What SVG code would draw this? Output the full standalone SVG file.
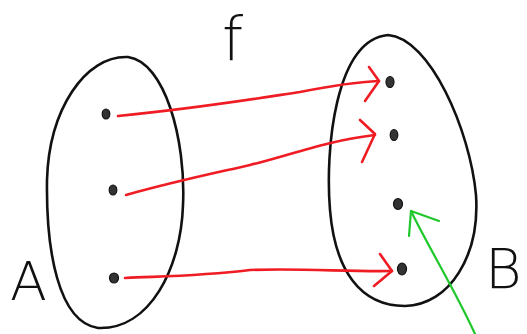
<svg xmlns="http://www.w3.org/2000/svg" width="527" height="334" viewBox="0 0 527 334">
<style>
.set{fill:none;stroke:#111;stroke-width:2.6}
.dot{fill:#333;stroke:#111;stroke-width:1.2}
.red{fill:none;stroke:#f01c24;stroke-width:2.6;stroke-linecap:round;stroke-linejoin:round}
.grn{fill:none;stroke:#1ec82a;stroke-width:2.2;stroke-linecap:round;stroke-linejoin:round}
.lbl{font-family:"DejaVu Sans","Liberation Sans",sans-serif;fill:#111;font-weight:200}
</style>
<rect width="527" height="334" fill="#fff"/>
<g id="setA">
<path class="set" d="M128,57 C165,62 186,140 183,205 C181,268 150,330 98,328 C58,322 46,250 47,180 C49,110 85,55 128,57 Z"/>
<ellipse class="dot" cx="106" cy="114" rx="3.8" ry="5"/>
<ellipse class="dot" cx="113" cy="190" rx="3.8" ry="5"/>
<ellipse class="dot" cx="114" cy="278" rx="4.5" ry="5"/>
<text class="lbl" x="10" y="300" font-size="54">A</text>
</g>
<g id="setB">
<path class="set" d="M388,35 C430,38 470,130 476,195 C480,255 450,305 405,306 C360,306 335,270 330,210 C325,150 335,40 388,35 Z"/>
<ellipse class="dot" cx="390" cy="82" rx="4" ry="5.5"/>
<ellipse class="dot" cx="394" cy="135" rx="3.8" ry="5.5"/>
<ellipse class="dot" cx="398" cy="204" rx="4.5" ry="5.5"/>
<ellipse class="dot" cx="402" cy="269" rx="4.5" ry="6"/>
<text class="lbl" x="485" y="288" font-size="56">B</text>
</g>
<g id="label-f">
<text class="lbl" x="222" y="60" font-size="60">f</text>
</g>
<g id="connectors">
<path class="red" d="M118,116 C200,108 260,98 300,92 C330,86 355,82 379,81"/>
<path class="red" d="M369,67 L379,81 L365,101"/>
<path class="red" d="M126,195 C180,180 220,172 250,165 C290,155 330,140 375,135"/>
<path class="red" d="M360,120 L375,134 L362,162"/>
<path class="red" d="M125,278 C170,276 200,276 250,270 C300,268 350,272 392,271"/>
<path class="red" d="M380,254 L392,271 L374,286"/>
<path class="grn" d="M475,334 C455,290 430,250 411,211"/>
<path class="grn" d="M409,236 L411,211 L439,221"/>
</g>
</svg>
